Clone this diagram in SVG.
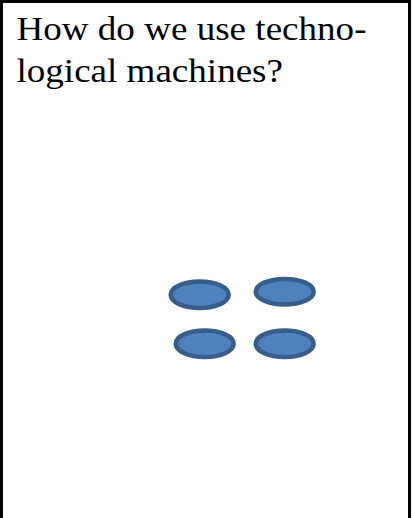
<svg xmlns="http://www.w3.org/2000/svg" width="412" height="518" viewBox="0 0 412 518">
<style>
.t{font-family:"Liberation Serif","Times New Roman",serif;font-size:34px;fill:#000}
.e{fill:#4F81BD;stroke:#385D8A;stroke-width:4.5}
</style>
<rect x="0" y="0" width="412" height="518" fill="#fff"/>
<g id="frame">
<path d="M1.5,520 V1.5 H409.5 V520" fill="none" stroke="#000" stroke-width="3"/>
</g>
<g id="title">
<text class="t" x="16.5" y="39.5" textLength="350" lengthAdjust="spacingAndGlyphs">How do we use techno-</text>
<text class="t" x="16.5" y="81.5" textLength="266.5" lengthAdjust="spacingAndGlyphs">logical machines?</text>
</g>
<g id="node1"><ellipse class="e" cx="199.7" cy="294.7" rx="29" ry="13.3"/></g>
<g id="node2"><ellipse class="e" cx="284.7" cy="291.7" rx="29" ry="12.8"/></g>
<g id="node3"><ellipse class="e" cx="204.7" cy="343.8" rx="29" ry="13.3"/></g>
<g id="node4"><ellipse class="e" cx="284.7" cy="343.8" rx="29" ry="13.3"/></g>
<g id="connectors"></g>
</svg>
